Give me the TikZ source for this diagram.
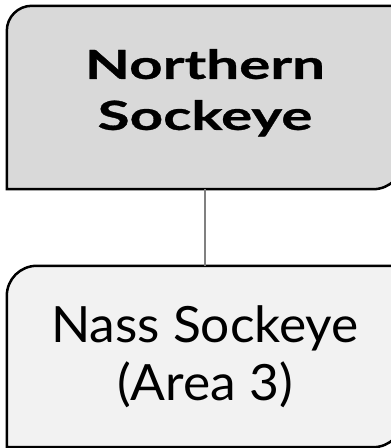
\documentclass[tikz,border=0pt]{standalone}
\usepackage{fontspec}
\setmainfont{Lato}
\newfontfamily\headfont{Lato}[FakeStretch=1.46, FakeBold=0.8]
\newfontfamily\subfont{Lato}[FakeStretch=1.03]
\usetikzlibrary{backgrounds}
\definecolor{topgray}{HTML}{D9D9D9}
\definecolor{lowgray}{HTML}{F2F2F2}
\begin{document}
\begin{tikzpicture}[
    x=1pt, y=1pt,
    box/.style={minimum width=396pt, align=center, inner sep=0pt},
    frame/.style={draw=black, line width=2.5pt},
    link/.style={draw=gray, line width=1.5pt}
]
\useasboundingbox (0,0) rectangle (391,448);

% Boxes
\node[box, minimum height=183pt, text depth=16pt, font=\headfont\fontsize{40}{51}\selectfont\bfseries] (north) at (205,350.5) {Northern\\Sockeye};
\node[box, minimum height=181pt, font=\subfont\fontsize{50}{58}\selectfont] (nass) at (205,91.5) {Nass Sockeye\\(Area 3)};

% Frames: rounded top left and bottom right
\begin{scope}[on background layer]
\path[frame, fill=topgray] (north.north) [rounded corners=25pt] -- (north.north west) -- (north.west)
    [sharp corners] -- (north.south west) -- (north.south)
    [rounded corners=30pt] -- (north.south east) -- (north.east)
    [sharp corners] -- (north.north east) -- cycle;
\path[frame, fill=lowgray] (nass.north) [rounded corners=30pt] -- (nass.north west) -- (nass.west)
    [sharp corners] -- (nass.south west) -- (nass.south)
    [rounded corners=30pt] -- (nass.south east) -- (nass.east)
    [sharp corners] -- (nass.north east) -- cycle;
\end{scope}

% Link
\draw[link] (north.south) -- (nass.north);
\end{tikzpicture}
\end{document}
